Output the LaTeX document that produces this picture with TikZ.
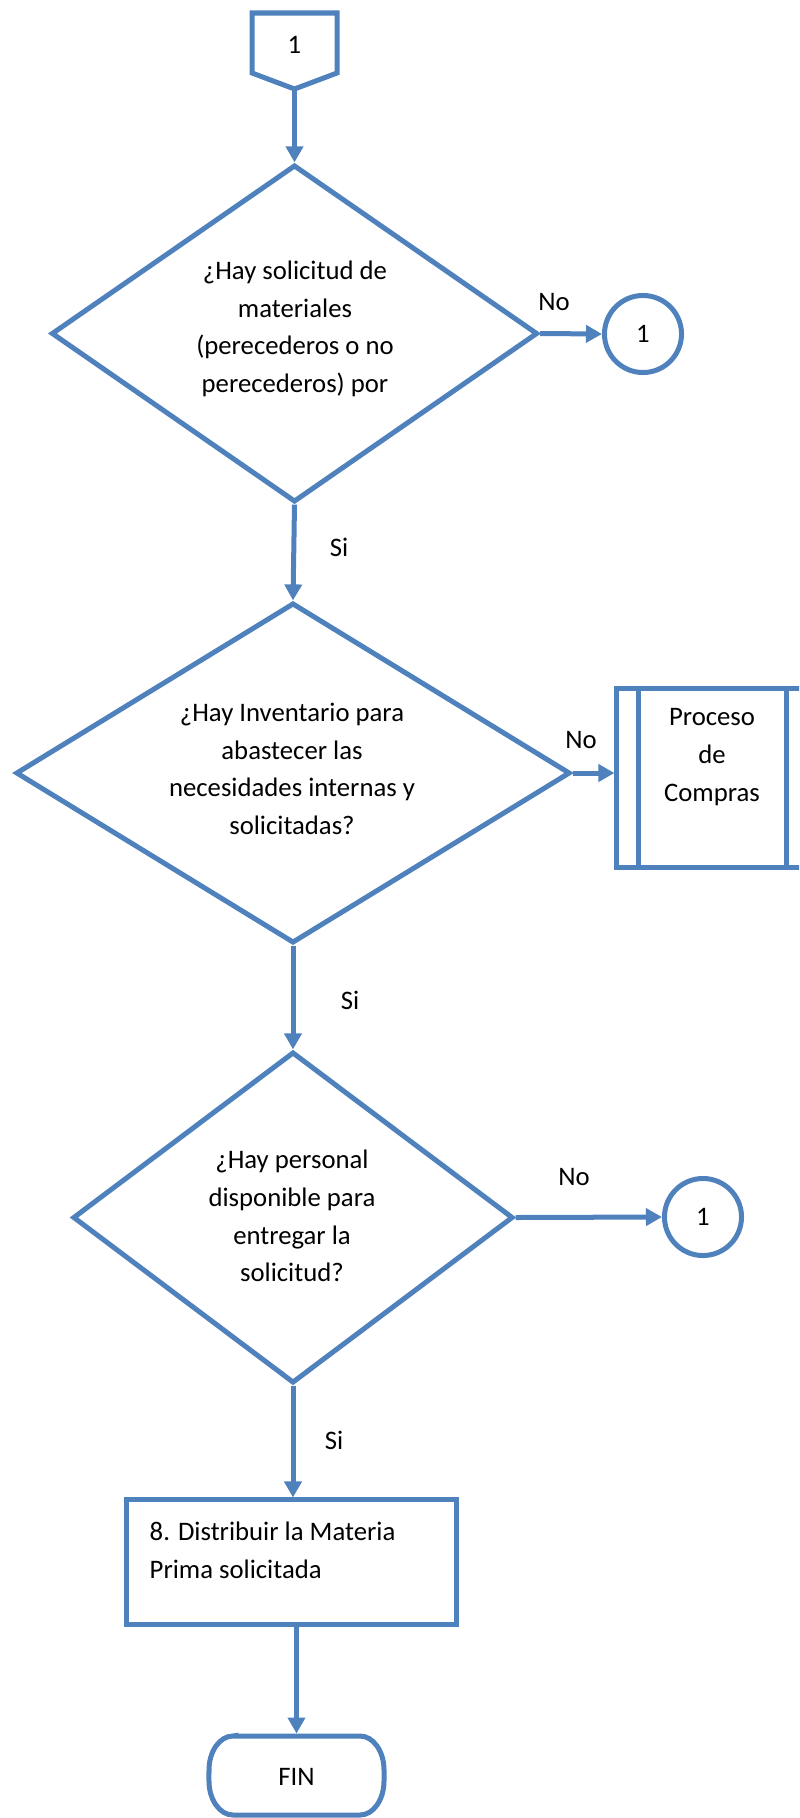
\documentclass[tikz,border=0pt]{standalone}
\usepackage{fontspec}
\setmainfont{Carlito}
\usetikzlibrary{shapes.geometric,arrows.meta,calc}
\definecolor{flowblue}{HTML}{4F81BD}
\begin{document}
\begin{tikzpicture}[x=0.01cm,y=-0.01cm,
  every node/.style={font=\fontsize{7.6}{10.7}\selectfont, text=black},
  line/.style={draw=flowblue, line width=0.05cm},
  flow/.style={line, -{Triangle[length=0.16cm,width=0.17cm]}},
  decision/.style={diamond, line, inner sep=0pt},
  txt/.style={align=center, inner sep=0pt},
  connector/.style={circle, line, minimum size=0.77cm, inner sep=0pt},
  procbox/.style={rectangle, line, inner sep=0pt},
]
\useasboundingbox (0,0) rectangle (799,1818);
\clip (0,0) rectangle (799,1818);

% off-page connector at the start
\draw[line] (252,13) -- (337,13) -- (337,73) -- (294.5,89) -- (252,73) -- cycle;
\node (start) at (294.5,45) {1};
\coordinate (starttip) at (294.5,89);

% first decision
\node[decision, minimum width=4.86cm, minimum height=3.37cm] (d1) at (294.5,333.5) {};
\node[txt] (t1) at (295,329) {¿Hay solicitud de\\materiales\\(perecederos o no\\perecederos) por};
\draw[flow] (starttip) -- (d1.north);
\node[connector] (c1) at (643,334) {1};
\draw[flow] (d1.east) -- (c1.west);
\node (no1) at (554,302) {No};

% second decision
\node[decision, minimum width=5.54cm, minimum height=3.40cm] (d2) at (293,773) {};
\node[txt] (t2) at (292,769) {¿Hay Inventario para\\abastecer las\\necesidades internas y\\solicitadas?};
\draw[flow] (d1.south) -- (d2.north);
\node (si1) at (339,547) {Si};

% predefined process
\node[procbox, minimum width=1.91cm, minimum height=1.78cm] (buy) at (712.5,778) {};
\draw[line] ($(buy.north west)+(24,0)$) -- ($(buy.south west)+(24,0)$);
\draw[line] ($(buy.north east)+(-24,0)$) -- ($(buy.south east)+(-24,0)$);
\node[txt] (buytxt) at (712,757) {Proceso\\de\\Compras};
\draw[flow] (d2.east) -- (d2.east -| buy.west);
\node (no2) at (581,740) {No};

% third decision
\node[decision, minimum width=4.40cm, minimum height=3.31cm] (d3) at (293,1217.5) {};
\node[txt] (t3) at (292,1216) {¿Hay personal\\disponible para\\entregar la\\solicitud?};
\draw[flow] (d2.south) -- (d3.north);
\node (si2) at (350,1000) {Si};
\node[connector] (c3) at (703,1217) {1};
\draw[flow] (d3.east) -- (c3.west);
\node (no3) at (574,1177) {No};

% distribution step
\node[procbox, minimum width=3.29cm, minimum height=1.24cm] (dist) at (291.5,1562) {};
\node[txt, align=left, anchor=west] (disttxt) at (149,1550) {8. Distribuir la Materia\\Prima solicitada};
\draw[flow] (d3.south) -- (d3.south |- dist.north);
\node (si3) at (334,1440) {Si};

% terminator
\node[inner sep=0pt] (fin) at (296.5,1777) {FIN};
\draw[line] (233,1736) -- (360,1736)
  arc[start angle=90, end angle=0, x radius=0.24cm, y radius=0.34cm] -- (384,1781)
  arc[start angle=0, end angle=-90, x radius=0.24cm, y radius=0.34cm] -- (233,1815)
  arc[start angle=270, end angle=180, x radius=0.24cm, y radius=0.34cm] -- (209,1770)
  arc[start angle=180, end angle=90, x radius=0.24cm, y radius=0.34cm] -- cycle;
\coordinate (fintop) at (296.5,1736);
\draw[flow] (dist.south -| fintop) -- ($(fintop)+(0,-2.5)$);
\end{tikzpicture}
\end{document}
